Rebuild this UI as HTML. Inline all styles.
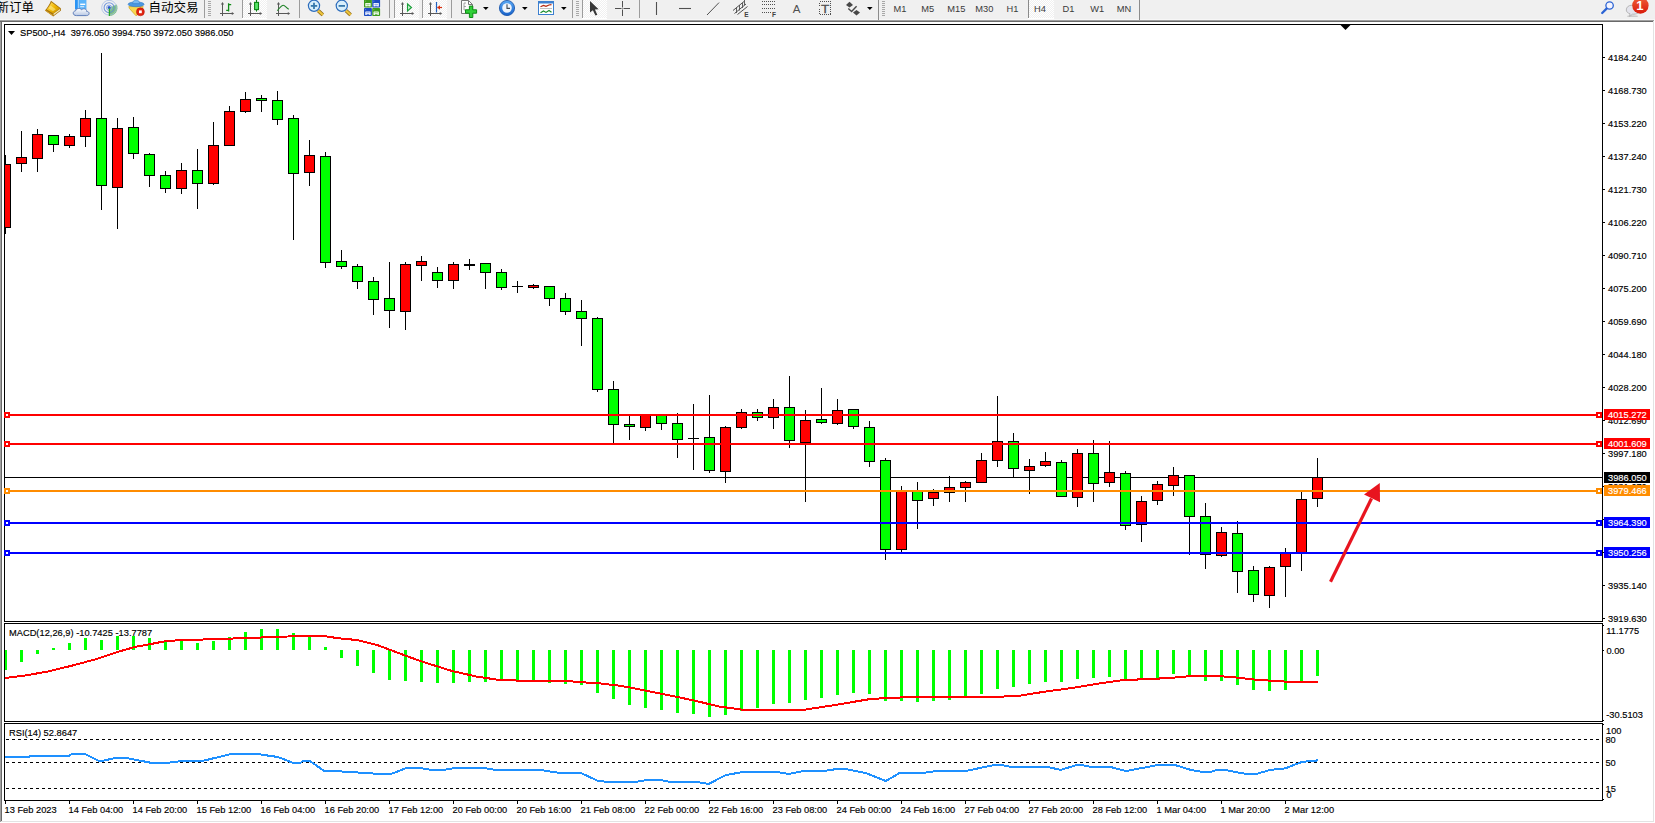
<!DOCTYPE html>
<html lang="zh"><head><meta charset="utf-8"><title>SP500-,H4</title>
<style>
html,body{margin:0;padding:0;background:#fff;}
body{width:1655px;height:823px;overflow:hidden;position:relative;font-family:"Liberation Sans","Noto Sans CJK SC",sans-serif;}
#toolbar{position:absolute;left:0;top:0;width:1655px;height:20px;background:#f0f0f0;}
#toolbar .cn{position:absolute;top:-3.5px;font-size:12.5px;line-height:22px;color:#000;white-space:nowrap;}
#toolbar .tf{position:absolute;top:1px;width:28px;text-align:center;font-size:9.4px;line-height:16px;color:#3c3c3c;}
#toolbar .tf.on{background:#f8f8f8;border-left:1px solid #8a8a8a;width:25px;height:18px;top:0;line-height:18px;}
#chart{position:absolute;left:0;top:0;}
#chart text{font-family:"Liberation Sans",sans-serif;font-size:9.95px;fill:#000;stroke:#000;stroke-width:.16px;}
#chart text.tf{fill:#3a3a3a;stroke:none;text-anchor:middle;}
#chart text.ic{stroke:none;}
#chart text.w{fill:#fff;stroke:#fff;}
</style></head><body>

<div id="toolbar">
<span class="cn" style="left:-3.5px">新订单</span>
<span class="cn" style="left:148.5px">自动交易</span>
</div>
<svg id="chart" width="1655" height="823" viewBox="0 0 1655 823">
<g shape-rendering="crispEdges">
<rect x="0" y="19" width="1655" height="1" fill="#f7f7f7"/>
<rect x="0" y="20" width="1654" height="1" fill="#a0a0a0"/><rect x="0" y="21" width="1654" height="1" fill="#696969"/>
<rect x="0" y="22" width="1" height="800" fill="#a0a0a0"/><rect x="1" y="22" width="1" height="799" fill="#696969"/>
<rect x="2" y="22" width="1652" height="800" fill="#fff"/>
<rect x="1653" y="21" width="1" height="801" fill="#e3e3e3"/><rect x="1" y="821" width="1653" height="1" fill="#e3e3e3"/>
<rect x="1654" y="20" width="1" height="803" fill="#fff"/><rect x="0" y="822" width="1655" height="1" fill="#fff"/>
<path d="M4.5 24.5H1602.5V621.5H4.5Z" fill="none" stroke="#000" stroke-width="1"/>
<path d="M4.5 623.5H1602.5V721.5H4.5Z" fill="none" stroke="#000" stroke-width="1"/>
<path d="M4.5 723.5H1602.5V800.5H4.5Z" fill="none" stroke="#000" stroke-width="1"/>
<rect x="5" y="477" width="1597" height="1" fill="#000"/>
</g>
<g shape-rendering="crispEdges">
<rect x="5" y="155" width="1" height="79" fill="#000"/>
<rect x="5" y="164" width="6" height="64" fill="#000"/>
<rect x="5" y="165" width="5" height="62" fill="#ff0000"/>
<rect x="21" y="131" width="1" height="41" fill="#000"/>
<rect x="16" y="157" width="11" height="7" fill="#000"/>
<rect x="17" y="158" width="9" height="5" fill="#ff0000"/>
<rect x="37" y="129" width="1" height="43" fill="#000"/>
<rect x="32" y="134" width="11" height="25" fill="#000"/>
<rect x="33" y="135" width="9" height="23" fill="#ff0000"/>
<rect x="53" y="135" width="1" height="17" fill="#000"/>
<rect x="48" y="135" width="11" height="10" fill="#000"/>
<rect x="49" y="136" width="9" height="8" fill="#00ff00"/>
<rect x="69" y="134" width="1" height="14" fill="#000"/>
<rect x="64" y="136" width="11" height="10" fill="#000"/>
<rect x="65" y="137" width="9" height="8" fill="#ff0000"/>
<rect x="85" y="110" width="1" height="37" fill="#000"/>
<rect x="80" y="118" width="11" height="19" fill="#000"/>
<rect x="81" y="119" width="9" height="17" fill="#ff0000"/>
<rect x="101" y="53" width="1" height="157" fill="#000"/>
<rect x="96" y="118" width="11" height="68" fill="#000"/>
<rect x="97" y="119" width="9" height="66" fill="#00ff00"/>
<rect x="117" y="118" width="1" height="111" fill="#000"/>
<rect x="112" y="128" width="11" height="60" fill="#000"/>
<rect x="113" y="129" width="9" height="58" fill="#ff0000"/>
<rect x="133" y="117" width="1" height="42" fill="#000"/>
<rect x="128" y="127" width="11" height="27" fill="#000"/>
<rect x="129" y="128" width="9" height="25" fill="#00ff00"/>
<rect x="149" y="153" width="1" height="34" fill="#000"/>
<rect x="144" y="154" width="11" height="22" fill="#000"/>
<rect x="145" y="155" width="9" height="20" fill="#00ff00"/>
<rect x="165" y="171" width="1" height="22" fill="#000"/>
<rect x="160" y="175" width="11" height="14" fill="#000"/>
<rect x="161" y="176" width="9" height="12" fill="#00ff00"/>
<rect x="181" y="163" width="1" height="31" fill="#000"/>
<rect x="176" y="170" width="11" height="19" fill="#000"/>
<rect x="177" y="171" width="9" height="17" fill="#ff0000"/>
<rect x="197" y="149" width="1" height="60" fill="#000"/>
<rect x="192" y="170" width="11" height="14" fill="#000"/>
<rect x="193" y="171" width="9" height="12" fill="#00ff00"/>
<rect x="213" y="122" width="1" height="63" fill="#000"/>
<rect x="208" y="145" width="11" height="39" fill="#000"/>
<rect x="209" y="146" width="9" height="37" fill="#ff0000"/>
<rect x="229" y="106" width="1" height="40" fill="#000"/>
<rect x="224" y="111" width="11" height="35" fill="#000"/>
<rect x="225" y="112" width="9" height="33" fill="#ff0000"/>
<rect x="245" y="92" width="1" height="21" fill="#000"/>
<rect x="240" y="99" width="11" height="13" fill="#000"/>
<rect x="241" y="100" width="9" height="11" fill="#ff0000"/>
<rect x="261" y="95" width="1" height="17" fill="#000"/>
<rect x="256" y="98" width="11" height="3" fill="#000"/>
<rect x="257" y="99" width="9" height="1" fill="#00ff00"/>
<rect x="277" y="91" width="1" height="34" fill="#000"/>
<rect x="272" y="100" width="11" height="20" fill="#000"/>
<rect x="273" y="101" width="9" height="18" fill="#00ff00"/>
<rect x="293" y="115" width="1" height="125" fill="#000"/>
<rect x="288" y="118" width="11" height="56" fill="#000"/>
<rect x="289" y="119" width="9" height="54" fill="#00ff00"/>
<rect x="309" y="140" width="1" height="46" fill="#000"/>
<rect x="304" y="155" width="11" height="18" fill="#000"/>
<rect x="305" y="156" width="9" height="16" fill="#ff0000"/>
<rect x="325" y="152" width="1" height="116" fill="#000"/>
<rect x="320" y="156" width="11" height="107" fill="#000"/>
<rect x="321" y="157" width="9" height="105" fill="#00ff00"/>
<rect x="341" y="250" width="1" height="19" fill="#000"/>
<rect x="336" y="261" width="11" height="6" fill="#000"/>
<rect x="337" y="262" width="9" height="4" fill="#00ff00"/>
<rect x="357" y="264" width="1" height="25" fill="#000"/>
<rect x="352" y="266" width="11" height="16" fill="#000"/>
<rect x="353" y="267" width="9" height="14" fill="#00ff00"/>
<rect x="373" y="277" width="1" height="38" fill="#000"/>
<rect x="368" y="281" width="11" height="19" fill="#000"/>
<rect x="369" y="282" width="9" height="17" fill="#00ff00"/>
<rect x="389" y="262" width="1" height="66" fill="#000"/>
<rect x="384" y="298" width="11" height="13" fill="#000"/>
<rect x="385" y="299" width="9" height="11" fill="#00ff00"/>
<rect x="405" y="262" width="1" height="68" fill="#000"/>
<rect x="400" y="264" width="11" height="48" fill="#000"/>
<rect x="401" y="265" width="9" height="46" fill="#ff0000"/>
<rect x="421" y="256" width="1" height="25" fill="#000"/>
<rect x="416" y="261" width="11" height="5" fill="#000"/>
<rect x="417" y="262" width="9" height="3" fill="#ff0000"/>
<rect x="437" y="267" width="1" height="21" fill="#000"/>
<rect x="432" y="272" width="11" height="9" fill="#000"/>
<rect x="433" y="273" width="9" height="7" fill="#00ff00"/>
<rect x="453" y="262" width="1" height="27" fill="#000"/>
<rect x="448" y="264" width="11" height="17" fill="#000"/>
<rect x="449" y="265" width="9" height="15" fill="#ff0000"/>
<rect x="469" y="259" width="1" height="11" fill="#000"/>
<rect x="464" y="264" width="11" height="2" fill="#000"/>
<rect x="485" y="263" width="1" height="26" fill="#000"/>
<rect x="480" y="263" width="11" height="10" fill="#000"/>
<rect x="481" y="264" width="9" height="8" fill="#00ff00"/>
<rect x="501" y="269" width="1" height="21" fill="#000"/>
<rect x="496" y="272" width="11" height="16" fill="#000"/>
<rect x="497" y="273" width="9" height="14" fill="#00ff00"/>
<rect x="517" y="281" width="1" height="12" fill="#000"/>
<rect x="512" y="286" width="11" height="1" fill="#000"/>
<rect x="533" y="284" width="1" height="5" fill="#000"/>
<rect x="528" y="285" width="11" height="3" fill="#000"/>
<rect x="529" y="286" width="9" height="1" fill="#ff0000"/>
<rect x="549" y="286" width="1" height="20" fill="#000"/>
<rect x="544" y="286" width="11" height="13" fill="#000"/>
<rect x="545" y="287" width="9" height="11" fill="#00ff00"/>
<rect x="565" y="293" width="1" height="22" fill="#000"/>
<rect x="560" y="298" width="11" height="14" fill="#000"/>
<rect x="561" y="299" width="9" height="12" fill="#00ff00"/>
<rect x="581" y="300" width="1" height="46" fill="#000"/>
<rect x="576" y="311" width="11" height="8" fill="#000"/>
<rect x="577" y="312" width="9" height="6" fill="#00ff00"/>
<rect x="597" y="317" width="1" height="75" fill="#000"/>
<rect x="592" y="318" width="11" height="72" fill="#000"/>
<rect x="593" y="319" width="9" height="70" fill="#00ff00"/>
<rect x="613" y="381" width="1" height="64" fill="#000"/>
<rect x="608" y="389" width="11" height="36" fill="#000"/>
<rect x="609" y="390" width="9" height="34" fill="#00ff00"/>
<rect x="629" y="416" width="1" height="24" fill="#000"/>
<rect x="624" y="424" width="11" height="3" fill="#000"/>
<rect x="625" y="425" width="9" height="1" fill="#00ff00"/>
<rect x="645" y="414" width="1" height="17" fill="#000"/>
<rect x="640" y="414" width="11" height="14" fill="#000"/>
<rect x="641" y="415" width="9" height="12" fill="#ff0000"/>
<rect x="661" y="415" width="1" height="15" fill="#000"/>
<rect x="656" y="415" width="11" height="9" fill="#000"/>
<rect x="657" y="416" width="9" height="7" fill="#00ff00"/>
<rect x="677" y="413" width="1" height="45" fill="#000"/>
<rect x="672" y="423" width="11" height="17" fill="#000"/>
<rect x="673" y="424" width="9" height="15" fill="#00ff00"/>
<rect x="693" y="404" width="1" height="66" fill="#000"/>
<rect x="688" y="438" width="11" height="1" fill="#000"/>
<rect x="709" y="395" width="1" height="78" fill="#000"/>
<rect x="704" y="437" width="11" height="34" fill="#000"/>
<rect x="705" y="438" width="9" height="32" fill="#00ff00"/>
<rect x="725" y="426" width="1" height="57" fill="#000"/>
<rect x="720" y="427" width="11" height="45" fill="#000"/>
<rect x="721" y="428" width="9" height="43" fill="#ff0000"/>
<rect x="741" y="409" width="1" height="20" fill="#000"/>
<rect x="736" y="412" width="11" height="16" fill="#000"/>
<rect x="737" y="413" width="9" height="14" fill="#ff0000"/>
<rect x="757" y="409" width="1" height="12" fill="#000"/>
<rect x="752" y="412" width="11" height="6" fill="#000"/>
<rect x="753" y="413" width="9" height="4" fill="#00ff00"/>
<rect x="773" y="399" width="1" height="30" fill="#000"/>
<rect x="768" y="407" width="11" height="11" fill="#000"/>
<rect x="769" y="408" width="9" height="9" fill="#ff0000"/>
<rect x="789" y="376" width="1" height="72" fill="#000"/>
<rect x="784" y="407" width="11" height="34" fill="#000"/>
<rect x="785" y="408" width="9" height="32" fill="#00ff00"/>
<rect x="805" y="410" width="1" height="92" fill="#000"/>
<rect x="800" y="420" width="11" height="23" fill="#000"/>
<rect x="801" y="421" width="9" height="21" fill="#ff0000"/>
<rect x="821" y="388" width="1" height="36" fill="#000"/>
<rect x="816" y="419" width="11" height="4" fill="#000"/>
<rect x="817" y="420" width="9" height="2" fill="#00ff00"/>
<rect x="837" y="399" width="1" height="26" fill="#000"/>
<rect x="832" y="410" width="11" height="14" fill="#000"/>
<rect x="833" y="411" width="9" height="12" fill="#ff0000"/>
<rect x="853" y="409" width="1" height="20" fill="#000"/>
<rect x="848" y="409" width="11" height="18" fill="#000"/>
<rect x="849" y="410" width="9" height="16" fill="#00ff00"/>
<rect x="869" y="421" width="1" height="46" fill="#000"/>
<rect x="864" y="427" width="11" height="35" fill="#000"/>
<rect x="865" y="428" width="9" height="33" fill="#00ff00"/>
<rect x="885" y="458" width="1" height="102" fill="#000"/>
<rect x="880" y="460" width="11" height="90" fill="#000"/>
<rect x="881" y="461" width="9" height="88" fill="#00ff00"/>
<rect x="901" y="486" width="1" height="66" fill="#000"/>
<rect x="896" y="490" width="11" height="60" fill="#000"/>
<rect x="897" y="491" width="9" height="58" fill="#ff0000"/>
<rect x="917" y="482" width="1" height="47" fill="#000"/>
<rect x="912" y="490" width="11" height="11" fill="#000"/>
<rect x="913" y="491" width="9" height="9" fill="#00ff00"/>
<rect x="933" y="489" width="1" height="17" fill="#000"/>
<rect x="928" y="492" width="11" height="7" fill="#000"/>
<rect x="929" y="493" width="9" height="5" fill="#ff0000"/>
<rect x="949" y="476" width="1" height="26" fill="#000"/>
<rect x="944" y="487" width="11" height="6" fill="#000"/>
<rect x="945" y="488" width="9" height="4" fill="#ff0000"/>
<rect x="965" y="481" width="1" height="21" fill="#000"/>
<rect x="960" y="482" width="11" height="6" fill="#000"/>
<rect x="961" y="483" width="9" height="4" fill="#ff0000"/>
<rect x="981" y="453" width="1" height="30" fill="#000"/>
<rect x="976" y="460" width="11" height="23" fill="#000"/>
<rect x="977" y="461" width="9" height="21" fill="#ff0000"/>
<rect x="997" y="396" width="1" height="71" fill="#000"/>
<rect x="992" y="441" width="11" height="20" fill="#000"/>
<rect x="993" y="442" width="9" height="18" fill="#ff0000"/>
<rect x="1013" y="433" width="1" height="45" fill="#000"/>
<rect x="1008" y="441" width="11" height="28" fill="#000"/>
<rect x="1009" y="442" width="9" height="26" fill="#00ff00"/>
<rect x="1029" y="459" width="1" height="35" fill="#000"/>
<rect x="1024" y="466" width="11" height="5" fill="#000"/>
<rect x="1025" y="467" width="9" height="3" fill="#ff0000"/>
<rect x="1045" y="452" width="1" height="15" fill="#000"/>
<rect x="1040" y="461" width="11" height="5" fill="#000"/>
<rect x="1041" y="462" width="9" height="3" fill="#ff0000"/>
<rect x="1061" y="460" width="1" height="37" fill="#000"/>
<rect x="1056" y="462" width="11" height="35" fill="#000"/>
<rect x="1057" y="463" width="9" height="33" fill="#00ff00"/>
<rect x="1077" y="449" width="1" height="58" fill="#000"/>
<rect x="1072" y="453" width="11" height="45" fill="#000"/>
<rect x="1073" y="454" width="9" height="43" fill="#ff0000"/>
<rect x="1093" y="440" width="1" height="62" fill="#000"/>
<rect x="1088" y="453" width="11" height="31" fill="#000"/>
<rect x="1089" y="454" width="9" height="29" fill="#00ff00"/>
<rect x="1109" y="441" width="1" height="46" fill="#000"/>
<rect x="1104" y="472" width="11" height="11" fill="#000"/>
<rect x="1105" y="473" width="9" height="9" fill="#ff0000"/>
<rect x="1125" y="471" width="1" height="59" fill="#000"/>
<rect x="1120" y="473" width="11" height="53" fill="#000"/>
<rect x="1121" y="474" width="9" height="51" fill="#00ff00"/>
<rect x="1141" y="496" width="1" height="46" fill="#000"/>
<rect x="1136" y="501" width="11" height="24" fill="#000"/>
<rect x="1137" y="502" width="9" height="22" fill="#ff0000"/>
<rect x="1157" y="481" width="1" height="24" fill="#000"/>
<rect x="1152" y="484" width="11" height="17" fill="#000"/>
<rect x="1153" y="485" width="9" height="15" fill="#ff0000"/>
<rect x="1173" y="467" width="1" height="29" fill="#000"/>
<rect x="1168" y="475" width="11" height="11" fill="#000"/>
<rect x="1169" y="476" width="9" height="9" fill="#ff0000"/>
<rect x="1189" y="475" width="1" height="80" fill="#000"/>
<rect x="1184" y="475" width="11" height="42" fill="#000"/>
<rect x="1185" y="476" width="9" height="40" fill="#00ff00"/>
<rect x="1205" y="503" width="1" height="66" fill="#000"/>
<rect x="1200" y="516" width="11" height="39" fill="#000"/>
<rect x="1201" y="517" width="9" height="37" fill="#00ff00"/>
<rect x="1221" y="527" width="1" height="30" fill="#000"/>
<rect x="1216" y="532" width="11" height="24" fill="#000"/>
<rect x="1217" y="533" width="9" height="22" fill="#ff0000"/>
<rect x="1237" y="521" width="1" height="72" fill="#000"/>
<rect x="1232" y="533" width="11" height="39" fill="#000"/>
<rect x="1233" y="534" width="9" height="37" fill="#00ff00"/>
<rect x="1253" y="566" width="1" height="36" fill="#000"/>
<rect x="1248" y="570" width="11" height="25" fill="#000"/>
<rect x="1249" y="571" width="9" height="23" fill="#00ff00"/>
<rect x="1269" y="566" width="1" height="42" fill="#000"/>
<rect x="1264" y="567" width="11" height="29" fill="#000"/>
<rect x="1265" y="568" width="9" height="27" fill="#ff0000"/>
<rect x="1285" y="548" width="1" height="49" fill="#000"/>
<rect x="1280" y="552" width="11" height="15" fill="#000"/>
<rect x="1281" y="553" width="9" height="13" fill="#ff0000"/>
<rect x="1301" y="492" width="1" height="79" fill="#000"/>
<rect x="1296" y="499" width="11" height="54" fill="#000"/>
<rect x="1297" y="500" width="9" height="52" fill="#ff0000"/>
<rect x="1317" y="458" width="1" height="49" fill="#000"/>
<rect x="1312" y="477" width="11" height="22" fill="#000"/>
<rect x="1313" y="478" width="9" height="20" fill="#ff0000"/>
</g>
<g shape-rendering="crispEdges">
<rect x="5" y="414" width="1597" height="2" fill="#ff0000"/>
<rect x="4" y="412" width="6" height="6" fill="#ff0000"/><rect x="6" y="414" width="2" height="2" fill="#fff"/>
<rect x="1596" y="412" width="6" height="6" fill="#ff0000"/><rect x="1598" y="414" width="2" height="2" fill="#fff"/>
<rect x="5" y="443" width="1597" height="2" fill="#ff0000"/>
<rect x="4" y="441" width="6" height="6" fill="#ff0000"/><rect x="6" y="443" width="2" height="2" fill="#fff"/>
<rect x="1596" y="441" width="6" height="6" fill="#ff0000"/><rect x="1598" y="443" width="2" height="2" fill="#fff"/>
<rect x="5" y="490" width="1597" height="2" fill="#ff8c00"/>
<rect x="4" y="488" width="6" height="6" fill="#ff8c00"/><rect x="6" y="490" width="2" height="2" fill="#fff"/>
<rect x="1596" y="488" width="6" height="6" fill="#ff8c00"/><rect x="1598" y="490" width="2" height="2" fill="#fff"/>
<rect x="5" y="522" width="1597" height="2" fill="#0000ff"/>
<rect x="4" y="520" width="6" height="6" fill="#0000ff"/><rect x="6" y="522" width="2" height="2" fill="#fff"/>
<rect x="1596" y="520" width="6" height="6" fill="#0000ff"/><rect x="1598" y="522" width="2" height="2" fill="#fff"/>
<rect x="5" y="552" width="1597" height="2" fill="#0000ff"/>
<rect x="4" y="550" width="6" height="6" fill="#0000ff"/><rect x="6" y="552" width="2" height="2" fill="#fff"/>
<rect x="1596" y="550" width="6" height="6" fill="#0000ff"/><rect x="1598" y="552" width="2" height="2" fill="#fff"/>
</g>
<g shape-rendering="crispEdges">
<rect x="5" y="650" width="2" height="20" fill="#00ff00"/>
<rect x="20" y="650" width="3" height="12" fill="#00ff00"/>
<rect x="36" y="650" width="3" height="4" fill="#00ff00"/>
<rect x="52" y="648" width="3" height="2" fill="#00ff00"/>
<rect x="68" y="643" width="3" height="7" fill="#00ff00"/>
<rect x="84" y="638" width="3" height="12" fill="#00ff00"/>
<rect x="100" y="640" width="3" height="10" fill="#00ff00"/>
<rect x="116" y="636" width="3" height="14" fill="#00ff00"/>
<rect x="132" y="636" width="3" height="14" fill="#00ff00"/>
<rect x="148" y="638" width="3" height="12" fill="#00ff00"/>
<rect x="164" y="640" width="3" height="10" fill="#00ff00"/>
<rect x="180" y="641" width="3" height="9" fill="#00ff00"/>
<rect x="196" y="643" width="3" height="7" fill="#00ff00"/>
<rect x="212" y="641" width="3" height="9" fill="#00ff00"/>
<rect x="228" y="637" width="3" height="13" fill="#00ff00"/>
<rect x="244" y="632" width="3" height="18" fill="#00ff00"/>
<rect x="260" y="629" width="3" height="21" fill="#00ff00"/>
<rect x="276" y="629" width="3" height="21" fill="#00ff00"/>
<rect x="292" y="633" width="3" height="17" fill="#00ff00"/>
<rect x="308" y="636" width="3" height="14" fill="#00ff00"/>
<rect x="324" y="647" width="3" height="3" fill="#00ff00"/>
<rect x="340" y="650" width="3" height="8" fill="#00ff00"/>
<rect x="356" y="650" width="3" height="16" fill="#00ff00"/>
<rect x="372" y="650" width="3" height="23" fill="#00ff00"/>
<rect x="388" y="650" width="3" height="30" fill="#00ff00"/>
<rect x="404" y="650" width="3" height="31" fill="#00ff00"/>
<rect x="420" y="650" width="3" height="32" fill="#00ff00"/>
<rect x="436" y="650" width="3" height="33" fill="#00ff00"/>
<rect x="452" y="650" width="3" height="33" fill="#00ff00"/>
<rect x="468" y="650" width="3" height="32" fill="#00ff00"/>
<rect x="484" y="650" width="3" height="32" fill="#00ff00"/>
<rect x="500" y="650" width="3" height="31" fill="#00ff00"/>
<rect x="516" y="650" width="3" height="31" fill="#00ff00"/>
<rect x="532" y="650" width="3" height="31" fill="#00ff00"/>
<rect x="548" y="650" width="3" height="33" fill="#00ff00"/>
<rect x="564" y="650" width="3" height="34" fill="#00ff00"/>
<rect x="580" y="650" width="3" height="35" fill="#00ff00"/>
<rect x="596" y="650" width="3" height="43" fill="#00ff00"/>
<rect x="612" y="650" width="3" height="49" fill="#00ff00"/>
<rect x="628" y="650" width="3" height="55" fill="#00ff00"/>
<rect x="644" y="650" width="3" height="58" fill="#00ff00"/>
<rect x="660" y="650" width="3" height="60" fill="#00ff00"/>
<rect x="676" y="650" width="3" height="63" fill="#00ff00"/>
<rect x="692" y="650" width="3" height="64" fill="#00ff00"/>
<rect x="708" y="650" width="3" height="67" fill="#00ff00"/>
<rect x="724" y="650" width="3" height="65" fill="#00ff00"/>
<rect x="740" y="650" width="3" height="61" fill="#00ff00"/>
<rect x="756" y="650" width="3" height="58" fill="#00ff00"/>
<rect x="772" y="650" width="3" height="54" fill="#00ff00"/>
<rect x="788" y="650" width="3" height="53" fill="#00ff00"/>
<rect x="804" y="650" width="3" height="50" fill="#00ff00"/>
<rect x="820" y="650" width="3" height="48" fill="#00ff00"/>
<rect x="836" y="650" width="3" height="45" fill="#00ff00"/>
<rect x="852" y="650" width="3" height="43" fill="#00ff00"/>
<rect x="868" y="650" width="3" height="44" fill="#00ff00"/>
<rect x="884" y="650" width="3" height="51" fill="#00ff00"/>
<rect x="900" y="650" width="3" height="51" fill="#00ff00"/>
<rect x="916" y="650" width="3" height="52" fill="#00ff00"/>
<rect x="932" y="650" width="3" height="51" fill="#00ff00"/>
<rect x="948" y="650" width="3" height="50" fill="#00ff00"/>
<rect x="964" y="650" width="3" height="47" fill="#00ff00"/>
<rect x="980" y="650" width="3" height="44" fill="#00ff00"/>
<rect x="996" y="650" width="3" height="39" fill="#00ff00"/>
<rect x="1012" y="650" width="3" height="37" fill="#00ff00"/>
<rect x="1028" y="650" width="3" height="34" fill="#00ff00"/>
<rect x="1044" y="650" width="3" height="32" fill="#00ff00"/>
<rect x="1060" y="650" width="3" height="32" fill="#00ff00"/>
<rect x="1076" y="650" width="3" height="29" fill="#00ff00"/>
<rect x="1092" y="650" width="3" height="28" fill="#00ff00"/>
<rect x="1108" y="650" width="3" height="27" fill="#00ff00"/>
<rect x="1124" y="650" width="3" height="30" fill="#00ff00"/>
<rect x="1140" y="650" width="3" height="30" fill="#00ff00"/>
<rect x="1156" y="650" width="3" height="28" fill="#00ff00"/>
<rect x="1172" y="650" width="3" height="24" fill="#00ff00"/>
<rect x="1188" y="650" width="3" height="27" fill="#00ff00"/>
<rect x="1204" y="650" width="3" height="31" fill="#00ff00"/>
<rect x="1220" y="650" width="3" height="31" fill="#00ff00"/>
<rect x="1236" y="650" width="3" height="35" fill="#00ff00"/>
<rect x="1252" y="650" width="3" height="40" fill="#00ff00"/>
<rect x="1268" y="650" width="3" height="41" fill="#00ff00"/>
<rect x="1284" y="650" width="3" height="40" fill="#00ff00"/>
<rect x="1300" y="650" width="3" height="32" fill="#00ff00"/>
<rect x="1316" y="650" width="3" height="26" fill="#00ff00"/>
</g>
<polyline fill="none" stroke="#ff0000" stroke-width="2" stroke-linejoin="round" shape-rendering="crispEdges" points="5,678 24,675.7 48,671.5 72.5,665.5 96.7,659 120.8,651 135,646.9 150,644.2 166.8,640.9 183.7,640.1 212.7,639.2 241.7,638.2 275.5,637 299.7,636 323.9,636 338,638.2 357.7,640.1 377,645 394.5,651.5 409,657 428.3,663.6 452.5,671.1 476.7,676.6 500.8,680.2 525,680.7 563.7,680.7 580.6,682.2 597.5,683.1 621.7,686 645.9,690.6 670,695.5 694.2,700.5 718.4,706.4 742.5,709.7 804.7,709.7 832.5,705.4 856.7,701.3 871.2,698.9 902.6,697.4 996.9,696.9 1021,695.5 1045.2,691.6 1074.2,687.7 1098.4,683.6 1122.5,680.2 1141.9,679.3 1158,678.6 1173.8,677.6 1190.8,676.1 1219.8,676.1 1236.7,677.6 1253.6,679.5 1270.5,680.7 1287.4,681.7 1317.6,681.7"/>
<g shape-rendering="crispEdges">
<path d="M6 739.5H1601" stroke="#000" stroke-width="1" stroke-dasharray="3 3" fill="none"/>
<path d="M6 762.5H1601" stroke="#000" stroke-width="1" stroke-dasharray="3 3" fill="none"/>
<path d="M6 788.5H1601" stroke="#000" stroke-width="1" stroke-dasharray="3 3" fill="none"/>
</g>
<polyline fill="none" stroke="#1e90ff" stroke-width="2" stroke-linejoin="round" shape-rendering="crispEdges" points="5,757 29,757 30,755.8 69,755.8 71,754.4 86,754.4 100,761.4 116,757.8 125.7,757.8 150,762.6 169,762.6 179,761.4 200.6,761.4 229.6,754.4 259.8,754.4 278,757 292.4,762.6 301,762.6 302,761.4 310.6,761.4 323.9,770.8 340.8,770.8 343.2,772 356.5,772 359,773 372,773 374.6,774 391,774 406.6,767.9 420,767.9 430.8,769.9 444,769.9 455,767.9 484,767.9 494.8,769.9 539.5,769.9 558.9,772.8 580.6,772.8 597.5,780.7 607,781.9 636,781.9 647,780 660,780 670,781.9 696.6,781.9 708.7,783.9 725.6,775.2 742.5,772 777,772 789,774 803.5,771 824,771 837.3,768.9 844.6,768.9 866.3,773.2 885.7,781 900,772.8 924.4,772.8 936.4,771 965.4,771 994.4,765 1001.7,765 1011.4,767 1047.6,767 1060.9,769.9 1076.6,765 1081.4,765 1091,767 1110.5,767 1126,771 1158,765 1175,765 1190.8,769.9 1202.8,772 1210,772 1217.3,769.9 1224.6,769.9 1246.3,774 1256,774 1270.5,769.9 1285,768.4 1302,761.9 1317.6,760.4"/>
<path d="M1340.5 25H1350.5L1345.5 30Z" fill="#000"/>
<path d="M1330.5 581.8L1371.5 498.5" stroke="#e8141f" stroke-width="3.2" fill="none"/>
<path d="M1379.8 483.1L1364 494.5L1380 502.2Z" fill="#e8141f"/>
<g shape-rendering="crispEdges">
<rect x="1603" y="57" width="2" height="1" fill="#000"/>
<rect x="1603" y="90" width="2" height="1" fill="#000"/>
<rect x="1603" y="123" width="2" height="1" fill="#000"/>
<rect x="1603" y="156" width="2" height="1" fill="#000"/>
<rect x="1603" y="189" width="2" height="1" fill="#000"/>
<rect x="1603" y="222" width="2" height="1" fill="#000"/>
<rect x="1603" y="255" width="2" height="1" fill="#000"/>
<rect x="1603" y="288" width="2" height="1" fill="#000"/>
<rect x="1603" y="321" width="2" height="1" fill="#000"/>
<rect x="1603" y="354" width="2" height="1" fill="#000"/>
<rect x="1603" y="387" width="2" height="1" fill="#000"/>
<rect x="1603" y="420" width="2" height="1" fill="#000"/>
<rect x="1603" y="453" width="2" height="1" fill="#000"/>
<rect x="1603" y="486" width="2" height="1" fill="#000"/>
<rect x="1603" y="519" width="2" height="1" fill="#000"/>
<rect x="1603" y="552" width="2" height="1" fill="#000"/>
<rect x="1603" y="585" width="2" height="1" fill="#000"/>
<rect x="1603" y="618" width="2" height="1" fill="#000"/>
<rect x="1603" y="625" width="1" height="1" fill="#000"/>
<rect x="1603" y="650" width="1" height="1" fill="#000"/>
<rect x="1603" y="720" width="1" height="1" fill="#000"/>
<rect x="1603" y="724" width="1" height="1" fill="#000"/>
<rect x="1603" y="799" width="1" height="1" fill="#000"/>
<rect x="5" y="801" width="1" height="3" fill="#000"/>
<rect x="69" y="801" width="1" height="3" fill="#000"/>
<rect x="133" y="801" width="1" height="3" fill="#000"/>
<rect x="197" y="801" width="1" height="3" fill="#000"/>
<rect x="261" y="801" width="1" height="3" fill="#000"/>
<rect x="325" y="801" width="1" height="3" fill="#000"/>
<rect x="389" y="801" width="1" height="3" fill="#000"/>
<rect x="453" y="801" width="1" height="3" fill="#000"/>
<rect x="517" y="801" width="1" height="3" fill="#000"/>
<rect x="581" y="801" width="1" height="3" fill="#000"/>
<rect x="645" y="801" width="1" height="3" fill="#000"/>
<rect x="709" y="801" width="1" height="3" fill="#000"/>
<rect x="773" y="801" width="1" height="3" fill="#000"/>
<rect x="837" y="801" width="1" height="3" fill="#000"/>
<rect x="901" y="801" width="1" height="3" fill="#000"/>
<rect x="965" y="801" width="1" height="3" fill="#000"/>
<rect x="1029" y="801" width="1" height="3" fill="#000"/>
<rect x="1093" y="801" width="1" height="3" fill="#000"/>
<rect x="1157" y="801" width="1" height="3" fill="#000"/>
<rect x="1221" y="801" width="1" height="3" fill="#000"/>
<rect x="1285" y="801" width="1" height="3" fill="#000"/>
</g>
<text transform="translate(1608 60.8) scale(.935 1)" xml:space="preserve">4184.240</text>
<text transform="translate(1608 93.8) scale(.935 1)" xml:space="preserve">4168.730</text>
<text transform="translate(1608 126.8) scale(.935 1)" xml:space="preserve">4153.220</text>
<text transform="translate(1608 159.8) scale(.935 1)" xml:space="preserve">4137.240</text>
<text transform="translate(1608 192.8) scale(.935 1)" xml:space="preserve">4121.730</text>
<text transform="translate(1608 225.8) scale(.935 1)" xml:space="preserve">4106.220</text>
<text transform="translate(1608 258.8) scale(.935 1)" xml:space="preserve">4090.710</text>
<text transform="translate(1608 291.8) scale(.935 1)" xml:space="preserve">4075.200</text>
<text transform="translate(1608 324.8) scale(.935 1)" xml:space="preserve">4059.690</text>
<text transform="translate(1608 357.8) scale(.935 1)" xml:space="preserve">4044.180</text>
<text transform="translate(1608 390.8) scale(.935 1)" xml:space="preserve">4028.200</text>
<text transform="translate(1608 423.8) scale(.935 1)" xml:space="preserve">4012.690</text>
<text transform="translate(1608 456.8) scale(.935 1)" xml:space="preserve">3997.180</text>
<text transform="translate(1608 489.8) scale(.935 1)" xml:space="preserve">3981.670</text>
<text transform="translate(1608 522.8) scale(.935 1)" xml:space="preserve">3966.160</text>
<text transform="translate(1608 555.8) scale(.935 1)" xml:space="preserve">3950.650</text>
<text transform="translate(1608 588.8) scale(.935 1)" xml:space="preserve">3935.140</text>
<text transform="translate(1608 621.8) scale(.935 1)" xml:space="preserve">3919.630</text>
<g shape-rendering="crispEdges">
<rect x="1604" y="409" width="46" height="11" fill="#ff0000"/>
<rect x="1604" y="438" width="46" height="11" fill="#ff0000"/>
<rect x="1604" y="472" width="46" height="11" fill="#000000"/>
<rect x="1604" y="485" width="46" height="11" fill="#ff8c00"/>
<rect x="1604" y="517" width="46" height="11" fill="#0000ff"/>
<rect x="1604" y="547" width="46" height="11" fill="#0000ff"/>
</g>
<text class="w" transform="translate(1608 417.6) scale(.935 1)" xml:space="preserve">4015.272</text>
<text class="w" transform="translate(1608 446.6) scale(.935 1)" xml:space="preserve">4001.609</text>
<text class="w" transform="translate(1608 480.6) scale(.935 1)" xml:space="preserve">3986.050</text>
<text class="w" transform="translate(1608 493.6) scale(.935 1)" xml:space="preserve">3979.466</text>
<text class="w" transform="translate(1608 525.6) scale(.935 1)" xml:space="preserve">3964.390</text>
<text class="w" transform="translate(1608 555.6) scale(.935 1)" xml:space="preserve">3950.256</text>
<text transform="translate(1606.3 634) scale(.935 1)" xml:space="preserve">11.1775</text>
<text transform="translate(1606.4 654) scale(.935 1)" xml:space="preserve">0.00</text>
<text transform="translate(1606.2 718) scale(.935 1)" xml:space="preserve">-30.5103</text>
<text transform="translate(1606.6 797.5) scale(.935 1)" xml:space="preserve">0</text>
<text transform="translate(1606 734) scale(.935 1)" xml:space="preserve">100</text>
<text transform="translate(1605.4 743) scale(.935 1)" xml:space="preserve">80</text>
<text transform="translate(1605.4 766) scale(.935 1)" xml:space="preserve">50</text>
<text transform="translate(1605.6 791.7) scale(.935 1)" xml:space="preserve">15</text>
<path d="M8 31H15L11.5 35Z" fill="#000"/>
<text transform="translate(20 36) scale(.935 1)" xml:space="preserve">SP500-,H4  3976.050 3994.750 3972.050 3986.050</text>
<text transform="translate(9 636) scale(.935 1)" xml:space="preserve">MACD(12,26,9) -10.7425 -13.7787</text>
<text transform="translate(9 736) scale(.935 1)" xml:space="preserve">RSI(14) 52.8647</text>
<text transform="translate(4.5 813) scale(.935 1)" xml:space="preserve">13 Feb 2023</text>
<text transform="translate(68.5 813) scale(.935 1)" xml:space="preserve">14 Feb 04:00</text>
<text transform="translate(132.5 813) scale(.935 1)" xml:space="preserve">14 Feb 20:00</text>
<text transform="translate(196.5 813) scale(.935 1)" xml:space="preserve">15 Feb 12:00</text>
<text transform="translate(260.5 813) scale(.935 1)" xml:space="preserve">16 Feb 04:00</text>
<text transform="translate(324.5 813) scale(.935 1)" xml:space="preserve">16 Feb 20:00</text>
<text transform="translate(388.5 813) scale(.935 1)" xml:space="preserve">17 Feb 12:00</text>
<text transform="translate(452.5 813) scale(.935 1)" xml:space="preserve">20 Feb 00:00</text>
<text transform="translate(516.5 813) scale(.935 1)" xml:space="preserve">20 Feb 16:00</text>
<text transform="translate(580.5 813) scale(.935 1)" xml:space="preserve">21 Feb 08:00</text>
<text transform="translate(644.5 813) scale(.935 1)" xml:space="preserve">22 Feb 00:00</text>
<text transform="translate(708.5 813) scale(.935 1)" xml:space="preserve">22 Feb 16:00</text>
<text transform="translate(772.5 813) scale(.935 1)" xml:space="preserve">23 Feb 08:00</text>
<text transform="translate(836.5 813) scale(.935 1)" xml:space="preserve">24 Feb 00:00</text>
<text transform="translate(900.5 813) scale(.935 1)" xml:space="preserve">24 Feb 16:00</text>
<text transform="translate(964.5 813) scale(.935 1)" xml:space="preserve">27 Feb 04:00</text>
<text transform="translate(1028.5 813) scale(.935 1)" xml:space="preserve">27 Feb 20:00</text>
<text transform="translate(1092.5 813) scale(.935 1)" xml:space="preserve">28 Feb 12:00</text>
<text transform="translate(1156.5 813) scale(.935 1)" xml:space="preserve">1 Mar 04:00</text>
<text transform="translate(1220.5 813) scale(.935 1)" xml:space="preserve">1 Mar 20:00</text>
<text transform="translate(1284.5 813) scale(.935 1)" xml:space="preserve">2 Mar 12:00</text>
<defs>
<linearGradient id="gold" x1="0" y1="0" x2="1" y2="1"><stop offset="0" stop-color="#ffe27a"/><stop offset=".5" stop-color="#f0b800"/><stop offset="1" stop-color="#b9820a"/></linearGradient>
<linearGradient id="blu" x1="0" y1="0" x2="0" y2="1"><stop offset="0" stop-color="#5aa9f5"/><stop offset="1" stop-color="#1560c8"/></linearGradient>
<linearGradient id="redg" x1="0" y1="0" x2="0" y2="1"><stop offset="0" stop-color="#f0603a"/><stop offset="1" stop-color="#d81808"/></linearGradient>
<linearGradient id="cld" x1="0" y1="0" x2="0" y2="1"><stop offset="0" stop-color="#ffffff"/><stop offset="1" stop-color="#b8c8e4"/></linearGradient>
<pattern id="chk" width="2" height="2" patternUnits="userSpaceOnUse"><rect width="2" height="2" fill="#f0f0f0"/><rect width="1" height="1" fill="#fff"/><rect x="1" y="1" width="1" height="1" fill="#fff"/></pattern>
<clipPath id="tbclip"><rect x="0" y="0" width="1655" height="20"/></clipPath>
</defs>
<g clip-path="url(#tbclip)">
<g shape-rendering="crispEdges">
<rect x="243" y="0" width="24" height="18" fill="url(#chk)"/><rect x="242" y="18" width="25" height="1" fill="#fff"/>
<rect x="395" y="0" width="24" height="18" fill="url(#chk)"/><rect x="394" y="18" width="25" height="1" fill="#fff"/>
<rect x="423" y="0" width="24" height="18" fill="url(#chk)"/><rect x="422" y="18" width="25" height="1" fill="#fff"/>
<rect x="583" y="0" width="24" height="18" fill="url(#chk)"/><rect x="582" y="18" width="25" height="1" fill="#fff"/>
<rect x="204" y="0" width="1" height="18" fill="#9c9c9c"/>
<rect x="242" y="0" width="1" height="18" fill="#9c9c9c"/>
<rect x="299" y="0" width="1" height="18" fill="#9c9c9c"/>
<rect x="389" y="0" width="1" height="18" fill="#9c9c9c"/>
<rect x="394" y="0" width="1" height="18" fill="#9c9c9c"/>
<rect x="422" y="0" width="1" height="18" fill="#9c9c9c"/>
<rect x="451" y="0" width="1" height="18" fill="#9c9c9c"/>
<rect x="572" y="0" width="1" height="18" fill="#9c9c9c"/>
<rect x="582" y="0" width="1" height="18" fill="#9c9c9c"/>
<rect x="639" y="0" width="1" height="18" fill="#9c9c9c"/>
<rect x="878" y="0" width="1" height="20" fill="#8c8c8c"/>
<rect x="1139" y="0" width="1" height="20" fill="#8c8c8c"/>
<rect x="208" y="1" width="3" height="1" fill="#a8a8a8"/>
<rect x="208" y="3" width="3" height="1" fill="#a8a8a8"/>
<rect x="208" y="5" width="3" height="1" fill="#a8a8a8"/>
<rect x="208" y="7" width="3" height="1" fill="#a8a8a8"/>
<rect x="208" y="9" width="3" height="1" fill="#a8a8a8"/>
<rect x="208" y="11" width="3" height="1" fill="#a8a8a8"/>
<rect x="208" y="13" width="3" height="1" fill="#a8a8a8"/>
<rect x="208" y="15" width="3" height="1" fill="#a8a8a8"/>
<rect x="576" y="1" width="3" height="1" fill="#a8a8a8"/>
<rect x="576" y="3" width="3" height="1" fill="#a8a8a8"/>
<rect x="576" y="5" width="3" height="1" fill="#a8a8a8"/>
<rect x="576" y="7" width="3" height="1" fill="#a8a8a8"/>
<rect x="576" y="9" width="3" height="1" fill="#a8a8a8"/>
<rect x="576" y="11" width="3" height="1" fill="#a8a8a8"/>
<rect x="576" y="13" width="3" height="1" fill="#a8a8a8"/>
<rect x="576" y="15" width="3" height="1" fill="#a8a8a8"/>
<rect x="882" y="1" width="3" height="1" fill="#a8a8a8"/>
<rect x="882" y="3" width="3" height="1" fill="#a8a8a8"/>
<rect x="882" y="5" width="3" height="1" fill="#a8a8a8"/>
<rect x="882" y="7" width="3" height="1" fill="#a8a8a8"/>
<rect x="882" y="9" width="3" height="1" fill="#a8a8a8"/>
<rect x="882" y="11" width="3" height="1" fill="#a8a8a8"/>
<rect x="882" y="13" width="3" height="1" fill="#a8a8a8"/>
<rect x="882" y="15" width="3" height="1" fill="#a8a8a8"/>
</g>
<path d="M51 .8L60.8 8.3L61 10.4L53.2 16.4L44.9 10.5C47.2 8 49.6 4.4 51 .8Z" fill="#a8740c"/>
<path d="M51.4 2.2L59.9 8.6L53.4 13.4L46.8 9.4C48.4 7.4 50.2 4.8 51.4 2.2Z" fill="url(#gold)"/>
<path d="M50.6 5.4L55.8 9.2L53 11.2L48.6 8.4Z" fill="#fff0a0" fill-opacity=".55"/>
<path d="M53.5 13.7L60 8.9L60.2 10.2L53.6 15.2Z" fill="#f8ecb8"/>
<path d="M45.6 10.6L53.2 15.6" stroke="#d8a834" stroke-width=".9"/>
<rect x="75" y="-1" width="11.2" height="10.5" fill="#2a94f4"/><rect x="79.2" y="-1" width="7" height="10.5" fill="#5cb4fa"/>
<path d="M78.3 -1V9.5" stroke="#c4e4ff" stroke-width=".9"/><rect x="80.2" y="3.6" width="5" height="1.4" fill="#fff"/><rect x="80.2" y="6.2" width="4" height="1" fill="#e4f2ff"/>
<path d="M76.4 15.6C72.4 15.6 72.2 11.2 75.6 10.8C76 8.2 80.4 7.6 81.6 9.8C83.6 7.8 87 9 86.6 11.4C90 11.4 90 15.6 86.4 15.6Z" fill="url(#cld)" stroke="#5474b4" stroke-width=".9"/>
<path d="M109.3 7.7V15.8A8 8 0 0 0 116.8 4.6Z" fill="#50b050" fill-opacity=".7"/>
<circle cx="109.1" cy="7.7" r="7.4" fill="none" stroke="#a0b8e4" stroke-width="1" stroke-opacity=".75"/>
<circle cx="109.1" cy="7.7" r="5" fill="none" stroke="#6088d8" stroke-width="1.1" stroke-opacity=".85"/>
<circle cx="109.1" cy="7.7" r="2.6" fill="none" stroke="#88a8e4" stroke-width="1"/>
<circle cx="109.1" cy="7.5" r="1.5" fill="#2858d0"/>
<path d="M109.4 8.4V16" stroke="#28a828" stroke-width="1.3"/>
<path d="M128.8 6.6L143.2 6.6L140.6 12L136 15.8L129.4 8.4Z" fill="#f8d850" stroke="#d0a420" stroke-width=".7"/>
<ellipse cx="136.1" cy="4.3" rx="8" ry="2.4" fill="#4c98e0" stroke="#3078c4" stroke-width=".6"/>
<path d="M132.6 3.6C132.6 -1.4 139.6 -1.4 139.6 3.6Z" fill="#78b8f0" stroke="#3078c4" stroke-width=".5"/>
<circle cx="140.4" cy="11.8" r="4" fill="#e02410" stroke="#b41408" stroke-width=".5"/><rect x="139" y="10.4" width="2.8" height="2.8" fill="#fff"/>
<path d="M222.5 3V16M220 13.5H233" stroke="#585858" stroke-width="1" fill="none" shape-rendering="crispEdges"/>
<path d="M220.9 4.4L222.5 1.9L224.1 4.4Z" fill="#585858"/><path d="M231.8 11.9L234.2 13.5L231.8 15.1Z" fill="#585858"/>
<path d="M228.6 3.2V11.6M228.6 4.6H231.2M226.2 10.4H228.6" stroke="#108c18" stroke-width="1.3" fill="none"/>
<path d="M250.5 3V16M248 13.5H261" stroke="#585858" stroke-width="1" fill="none" shape-rendering="crispEdges"/>
<path d="M248.9 4.4L250.5 1.9L252.1 4.4Z" fill="#585858"/><path d="M259.8 11.9L262.2 13.5L259.8 15.1Z" fill="#585858"/>
<path d="M256.5 0V11.6" stroke="#0c8414" stroke-width="1.1"/><rect x="254.6" y="2.4" width="3.9" height="7.2" fill="#58e468" stroke="#0c8414" stroke-width="1.1"/>
<path d="M278.5 3V16M276 13.5H289" stroke="#585858" stroke-width="1" fill="none" shape-rendering="crispEdges"/>
<path d="M276.9 4.4L278.5 1.9L280.1 4.4Z" fill="#585858"/><path d="M287.8 11.9L290.2 13.5L287.8 15.1Z" fill="#585858"/>
<path d="M277.2 10.6C279.4 8.6 281.4 5.2 283.2 5.2C285 5.2 286.6 8.2 288.8 9.2" stroke="#208428" stroke-width="1.1" fill="none"/>
<path d="M318.2 10.6L322.8 14.8" stroke="#8c6410" stroke-width="3.6" stroke-linecap="butt"/>
<path d="M317.8 10.2L322.9 14.9" stroke="#ecc43c" stroke-width="2.2" stroke-linecap="butt"/>
<circle cx="314" cy="5.8" r="5.6" fill="#d8eefb" stroke="#2c6cbc" stroke-width="1.2"/>
<path d="M310.8 5.9H317.2" stroke="#3878ac" stroke-width="1.8"/>
<path d="M314 2.7V9.1" stroke="#3878ac" stroke-width="1.8"/>
<path d="M346.0 10.6L350.6 14.8" stroke="#8c6410" stroke-width="3.6" stroke-linecap="butt"/>
<path d="M345.6 10.2L350.7 14.9" stroke="#ecc43c" stroke-width="2.2" stroke-linecap="butt"/>
<circle cx="341.8" cy="5.8" r="5.6" fill="#d8eefb" stroke="#2c6cbc" stroke-width="1.2"/>
<path d="M338.6 5.9H345.0" stroke="#3878ac" stroke-width="1.8"/>
<rect x="364" y="-0.4" width="7.9" height="7.9" rx=".8" fill="#3c9c1c"/>
<rect x="365.3" y="2.9" width="5.3" height="3.5" rx=".5" fill="#fff"/><rect x="366.2" y="3.8000000000000003" width="3.5" height="1" fill="#8cd070"/><rect x="366.6" y="5.8" width="2.7" height=".7" fill="#3c9c1c"/>
<rect x="365.2" y="0.7000000000000001" width=".9" height=".9" fill="#8cd070"/>
<rect x="372.2" y="-0.4" width="7.9" height="7.9" rx=".8" fill="#1c4cc4"/>
<rect x="373.5" y="2.9" width="5.3" height="3.5" rx=".5" fill="#fff"/><rect x="374.4" y="3.8000000000000003" width="3.5" height="1" fill="#7c9cf0"/><rect x="374.8" y="5.8" width="2.7" height=".7" fill="#1c4cc4"/>
<rect x="373.4" y="0.7000000000000001" width=".9" height=".9" fill="#7c9cf0"/>
<rect x="364" y="8.1" width="7.9" height="7.9" rx=".8" fill="#1c4cc4"/>
<rect x="365.3" y="11.399999999999999" width="5.3" height="3.5" rx=".5" fill="#fff"/><rect x="366.2" y="12.3" width="3.5" height="1" fill="#7c9cf0"/><rect x="366.6" y="14.3" width="2.7" height=".7" fill="#1c4cc4"/>
<rect x="365.2" y="9.2" width=".9" height=".9" fill="#7c9cf0"/>
<rect x="372.2" y="8.1" width="7.9" height="7.9" rx=".8" fill="#3c9c1c"/>
<rect x="373.5" y="11.399999999999999" width="5.3" height="3.5" rx=".5" fill="#fff"/><rect x="374.4" y="12.3" width="3.5" height="1" fill="#8cd070"/><rect x="374.8" y="14.3" width="2.7" height=".7" fill="#3c9c1c"/>
<rect x="373.4" y="9.2" width=".9" height=".9" fill="#8cd070"/>
<path d="M402.5 3V16M400 13.5H413" stroke="#585858" stroke-width="1" fill="none" shape-rendering="crispEdges"/>
<path d="M400.9 4.4L402.5 1.9L404.1 4.4Z" fill="#585858"/><path d="M411.8 11.9L414.2 13.5L411.8 15.1Z" fill="#585858"/>
<path d="M407.5 4L411.5 7.5L407.5 11Z" fill="#c8f0d0" stroke="#18a038" stroke-width="1.1"/>
<path d="M430.5 3V16M428 13.5H441" stroke="#585858" stroke-width="1" fill="none" shape-rendering="crispEdges"/>
<path d="M428.9 4.4L430.5 1.9L432.1 4.4Z" fill="#585858"/><path d="M439.8 11.9L442.2 13.5L439.8 15.1Z" fill="#585858"/>
<path d="M436.5 2V12.5" stroke="#2060c0" stroke-width="1.2"/><path d="M437.5 7.5H442" stroke="#d83010" stroke-width="1.2"/><path d="M437.2 7.5L440 5.2V9.8Z" fill="#d83010"/>
<path d="M461.5 0.5H468.5L472.5 4.5V13.5H461.5Z" fill="#fcfcfc" stroke="#787878" stroke-width="1"/><path d="M468.5 .5V4.5H472.5" fill="none" stroke="#787878" stroke-width="1"/>
<path d="M464 3V10M464 3H466M464 6.5H466M464 10H466" stroke="#909090" stroke-width=".8" fill="none"/>
<path d="M469.4 6.1H472.8V9.8H476.6V13.2H472.8V17.5H469.4V13.2H465.5V9.8H469.4Z" fill="#30d038" stroke="#0c8c14" stroke-width="1"/>
<path d="M483 7H488.6L485.8 10Z" fill="#000"/>
<path d="M522 7H527.6L524.8 10Z" fill="#000"/>
<path d="M561 7H566.6L563.8 10Z" fill="#000"/>
<path d="M867 7H872.6L869.8 10Z" fill="#000"/>
<circle cx="507" cy="8" r="7.6" fill="url(#blu)" stroke="#1450a8" stroke-width=".8"/><circle cx="507" cy="8" r="4.8" fill="#eef4fc"/>
<path d="M507 4.2V8.4H510" stroke="#404850" stroke-width="1.1" fill="none"/>
<rect x="538.5" y="1.5" width="15" height="13" fill="#fff" stroke="#3c80d0" stroke-width="1"/><rect x="538.5" y="1.5" width="15" height="2" fill="#3c80d0"/>
<path d="M540 8.5H552" stroke="#b0b0b0" stroke-width=".8"/><path d="M540.5 6.8L543.5 5.4L546 6.4L549 5L551.5 4.6" stroke="#b42810" stroke-width="1.2" fill="none"/><path d="M540.5 12.8L543.5 11L546 12.4L549 10.4L551.5 12.2" stroke="#188c2c" stroke-width="1.2" fill="none"/>
<path d="M590 1L590 12.6L592.9 10.2L595.4 15.6L597.3 14.7L594.9 9.4L598.6 9.2Z" fill="#383838"/>
<path d="M615 8.5H621M624 8.5H630M622.5 1V7M622.5 10V16" stroke="#505050" stroke-width="1" shape-rendering="crispEdges"/><path d="M621 8.5H624M622.5 7V10" stroke="#a0a0a0" stroke-width="1" shape-rendering="crispEdges"/>
<path d="M656.5 2V15" stroke="#505050" stroke-width="1.1"/><path d="M679 8.5H691" stroke="#505050" stroke-width="1.1"/><path d="M707 15L719 2.6" stroke="#505050" stroke-width="1"/>
<path d="M733 10.5L744 1.5M734.5 13.5L746 4M737.5 14.5L747.5 6.5" stroke="#505050" stroke-width="1" fill="none"/>
<path d="M736.5 7.5V13M739.5 5V10.5M742.5 2.8V8M744.5 0V5" stroke="#505050" stroke-width=".9"/>
<text class="ic" x="744.2" y="16.6" style="font-size:6.5px;font-weight:bold;fill:#404040">E</text>
<path d="M762 1.5H776" stroke="#505050" stroke-width="1" stroke-dasharray="1 1" shape-rendering="crispEdges"/>
<path d="M762 4.5H776" stroke="#505050" stroke-width="1" stroke-dasharray="1 1" shape-rendering="crispEdges"/>
<path d="M762 8.5H776" stroke="#505050" stroke-width="1" stroke-dasharray="1 1" shape-rendering="crispEdges"/>
<path d="M762 12.5H771" stroke="#505050" stroke-width="1" stroke-dasharray="1 1" shape-rendering="crispEdges"/>
<text class="ic" x="772" y="16.6" style="font-size:6.5px;font-weight:bold;fill:#404040">F</text>
<text class="ic" x="792.8" y="12.8" style="font-size:11.6px;fill:#505050">A</text>
<rect x="819.5" y="1.5" width="11" height="13" fill="none" stroke="#505050" stroke-width="1" stroke-dasharray="1 1" shape-rendering="crispEdges"/>
<text transform="translate(820.9 12.5) scale(1.28 1)" style="font-size:10.6px;fill:#505050;stroke:#505050;stroke-width:.25">T</text>
<path d="M849.5 1.8L853 5L849.5 7.4L846 5Z" fill="#484848"/><path d="M856.5 10L860 12.6L856.5 15.6L853 12.6Z" fill="#484848"/><path d="M848.3 8.6L851.6 11.6L856.6 6.2" stroke="#484848" stroke-width="1.4" fill="none"/>
<circle cx="1609.6" cy="5.5" r="3.7" fill="#f4f4ff" stroke="#2c64d4" stroke-width="1.3"/><path d="M1606.6 8.6L1602.2 13" stroke="#2c64d4" stroke-width="2.3" stroke-linecap="round"/>
<ellipse cx="1632.5" cy="16.2" rx="5.5" ry=".9" fill="#bcbcbc" fill-opacity=".7"/>
<path d="M1632 5.2C1637.5 5.2 1640 7.2 1640 10C1640 12.8 1636.5 14.4 1632.5 14.2L1629.5 16.5L1630 13.8C1627.5 13 1626.3 11.6 1626.3 10C1626.3 7.2 1628.5 5.2 1632 5.2Z" fill="#e4e4ec" stroke="#b0b0b0" stroke-width=".9"/>
<circle cx="1640.4" cy="5.5" r="8.2" fill="url(#redg)"/>
<text class="ic" x="1636.2" y="10" style="font-size:13px;font-weight:bold;fill:#fff">1</text>
</g>
<g shape-rendering="crispEdges"><rect x="1029" y="0" width="25" height="18" fill="url(#chk)"/><rect x="1028" y="0" width="1" height="18" fill="#8a8a8a"/><rect x="1028" y="18" width="26" height="1" fill="#fff"/></g>
<text class="tf" transform="translate(899.9 12) scale(.935 1)" xml:space="preserve">M1</text>
<text class="tf" transform="translate(927.8 12) scale(.935 1)" xml:space="preserve">M5</text>
<text class="tf" transform="translate(956.3 12) scale(.935 1)" xml:space="preserve">M15</text>
<text class="tf" transform="translate(984.4 12) scale(.935 1)" xml:space="preserve">M30</text>
<text class="tf" transform="translate(1012.4 12) scale(.935 1)" xml:space="preserve">H1</text>
<text class="tf" transform="translate(1040 12) scale(.935 1)" xml:space="preserve">H4</text>
<text class="tf" transform="translate(1068.4 12) scale(.935 1)" xml:space="preserve">D1</text>
<text class="tf" transform="translate(1097.2 12) scale(.935 1)" xml:space="preserve">W1</text>
<text class="tf" transform="translate(1124 12) scale(.935 1)" xml:space="preserve">MN</text>
</svg>
</body></html>
